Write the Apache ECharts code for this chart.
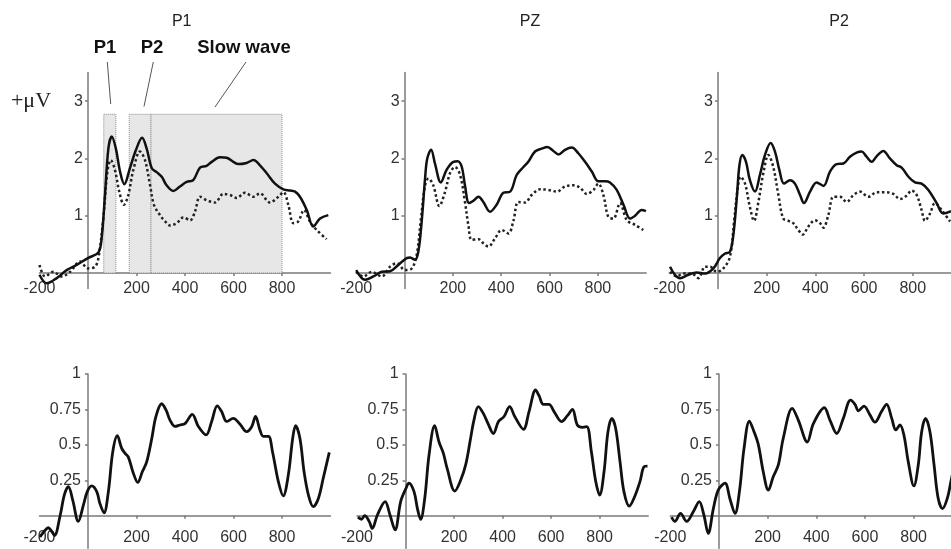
<!DOCTYPE html>
<html>
<head>
<meta charset="utf-8">
<script src="https://cdn.jsdelivr.net/npm/echarts@6/dist/echarts.min.js"></script>
<style>
html,body{margin:0;padding:0;background:#fff;}
#c{width:951px;height:549px;}
</style>
</head>
<body>
<div id="c"></div>
<script>
// ---- tick labels ----
const xLabelVals = [-200, 200, 400, 600, 800];
const xTickVals = [200, 400, 600, 800];
const yTopLabelVals = [1, 2, 3];
const yBotLabelVals = [0.25, 0.5, 0.75, 1];
const panelTitles = ['P1', 'PZ', 'P2'];

// ---- component windows (ms) in panel P1 ----
const compNames = ['P1', 'P2', 'Slow wave'];
const compStart = [65, 170, 260];
const compEnd = [115, 260, 800];
const compTop = 2.77;

// ---- top row: ERP amplitude (µV), solid & dotted conditions ----
const p1SolidT = [-200,-170,-129,-88,-47,0,43,56,70,84,98,115,132,150,173,198,223,242,263,283,304,324,352,379,407,434,462,489,510,544,572,599,620,654,682,709,737,771,806,833,854,874,902,929,957,991];
const p1SolidV = [-0.03,-0.18,-0.09,0.05,0.14,0.26,0.36,0.6,1.36,2.17,2.38,2.17,1.77,1.55,1.83,2.15,2.36,2.17,1.83,1.76,1.68,1.53,1.43,1.51,1.59,1.62,1.84,1.87,1.94,2.02,2.01,1.94,1.90,1.92,1.97,1.88,1.74,1.56,1.46,1.44,1.42,1.33,1.10,0.81,0.95,1.01];
const p1DotT = [-200,-177,-143,-109,-74,-33,0,29,43,63,80,94,111,129,148,166,187,214,235,256,272,297,318,338,366,393,421,441,462,489,524,558,586,613,647,682,709,750,785,806,826,847,867,891,915,943,984];
const p1DotV = [0.14,-0.06,0.02,-0.06,0.02,0.2,0.08,0.11,0.26,0.95,1.77,1.97,1.8,1.42,1.19,1.36,1.80,2.12,1.97,1.53,1.19,1.01,0.90,0.83,0.87,0.97,0.92,1.07,1.33,1.27,1.23,1.38,1.36,1.31,1.40,1.33,1.39,1.23,1.33,1.41,1.19,0.87,0.90,1.10,0.90,0.75,0.59];

const pzSolidT = [-200,-163,-129,-94,-60,-26,9,23,43,57,71,85,94,110,126,150,174,202,220,237,250,267,285,306,326,354,381,409,437,464,492,512,540,568,591,616,637,664,692,719,747,775,802,830,850,878,906,933,954,981,999];
const pzSolidV = [0.05,-0.12,-0.06,0.02,0.03,0.14,0.26,0.27,0.23,0.37,0.90,1.65,2.0,2.15,1.91,1.58,1.80,1.94,1.95,1.85,1.53,1.22,1.26,1.33,1.24,1.07,1.19,1.40,1.42,1.71,1.85,1.94,2.12,2.17,2.20,2.13,2.07,2.15,2.19,2.09,1.94,1.77,1.60,1.60,1.58,1.45,1.19,0.95,1.0,1.10,1.08];
const pzDotT = [-200,-170,-136,-94,-60,-32,2,30,50,68,85,99,119,144,168,188,209,230,250,264,278,306,326,347,374,402,430,451,471,499,526,561,595,630,664,699,726,754,782,802,823,843,864,892,920,954,988];
const pzDotV = [0.02,-0.06,0.02,-0.06,0.11,0.17,0.05,0.08,0.31,0.95,1.53,1.65,1.53,1.17,1.42,1.74,1.85,1.71,1.24,0.84,0.58,0.59,0.52,0.46,0.60,0.75,0.69,0.92,1.24,1.23,1.36,1.46,1.45,1.42,1.51,1.53,1.49,1.38,1.45,1.56,1.36,0.98,0.95,1.22,0.92,0.84,0.75];

const p2SolidT = [-197,-177,-156,-122,-88,-53,-19,8,29,49,63,77,88,100,115,131,152,172,193,216,234,252,271,296,316,337,353,378,405,433,460,487,515,542,569,590,610,631,652,679,706,734,754,782,809,836,864,898,925,957];
const p2SolidV = [0.11,-0.03,-0.09,-0.03,0.01,-0.01,0.08,0.26,0.34,0.37,0.66,1.30,1.88,2.06,1.94,1.62,1.42,1.71,2.06,2.27,2.12,1.80,1.56,1.62,1.56,1.36,1.22,1.42,1.58,1.52,1.77,1.90,1.91,2.03,2.10,2.12,2.03,1.94,2.04,2.13,2.0,1.88,1.84,1.68,1.58,1.56,1.45,1.22,1.04,1.08];
const p2DotT = [-197,-170,-142,-108,-81,-53,-33,-5,22,49,66,81,93,111,129,148,166,186,207,227,248,268,289,309,330,348,371,398,419,433,453,474,501,528,556,583,617,652,686,720,747,775,795,816,836,850,871,891,918,953];
const p2DotV = [0.02,-0.06,-0.01,-0.01,-0.09,0.11,0.11,0.02,0.08,0.28,0.90,1.48,1.68,1.56,1.19,0.91,1.24,1.74,2.06,1.85,1.36,0.95,0.91,0.87,0.75,0.67,0.81,0.92,0.87,0.79,1.01,1.33,1.33,1.24,1.36,1.42,1.33,1.41,1.41,1.38,1.29,1.35,1.44,1.36,1.10,0.91,1.04,1.22,1.10,0.90];

// ---- bottom row: 0..1 measure ----
const b1T = [-198,-180,-164,-150,-138,-115,-97,-81,-63,-40,-19,-3,15,36,49,66,84,102,121,139,153,166,187,205,224,242,263,280,304,322,338,359,379,400,430,455,487,510,533,551,572,599,627,654,675,691,709,723,744,761,785,805,826,844,856,874,891,909,929,950,970,995];
const b1V = [-0.15,-0.11,-0.085,-0.11,-0.14,0.0,0.15,0.205,0.11,-0.04,0.075,0.17,0.21,0.17,0.087,0.02,0.17,0.45,0.565,0.475,0.44,0.415,0.30,0.235,0.31,0.38,0.545,0.70,0.79,0.745,0.675,0.63,0.64,0.65,0.715,0.63,0.57,0.665,0.775,0.735,0.665,0.687,0.645,0.593,0.628,0.70,0.605,0.56,0.56,0.45,0.24,0.14,0.287,0.545,0.635,0.545,0.31,0.146,0.064,0.122,0.264,0.447];
const bzT = [-196,-182,-168,-150,-137,-116,-84,-64,-43,-20,1,14,35,49,62,79,97,120,138,156,172,203,227,248,268,282,300,321,340,362,383,406,429,450,486,509,536,550,568,591,612,643,667,688,708,729,747,766,784,800,818,834,850,866,884,900,922,944,966,983,997];
const bzV = [-0.01,-0.025,0.0,-0.04,-0.09,0.005,0.10,0.005,-0.10,0.10,0.19,0.23,0.17,0.05,-0.026,0.12,0.43,0.635,0.52,0.44,0.33,0.174,0.25,0.36,0.545,0.675,0.77,0.72,0.65,0.58,0.665,0.70,0.77,0.70,0.61,0.735,0.887,0.847,0.786,0.786,0.735,0.664,0.706,0.75,0.64,0.624,0.628,0.45,0.24,0.146,0.31,0.59,0.687,0.616,0.38,0.17,0.068,0.134,0.24,0.346,0.35];
const b2T = [-195,-181,-158,-133,-105,-81,-62,-44,-23,-3,25,45,66,84,103,125,144,162,182,203,223,244,264,301,326,363,388,433,456,484,511,541,559,573,596,621,641,668,689,710,727,744,760,778,801,819,833,849,867,884,901,919,938,953,975];
const b2V = [-0.01,-0.04,0.016,-0.04,0.03,0.10,0.005,-0.125,0.05,0.18,0.23,0.12,0.016,0.17,0.475,0.668,0.593,0.50,0.31,0.18,0.275,0.358,0.545,0.757,0.675,0.52,0.65,0.762,0.675,0.58,0.687,0.816,0.786,0.74,0.774,0.71,0.66,0.735,0.786,0.687,0.605,0.64,0.57,0.38,0.21,0.358,0.593,0.687,0.593,0.358,0.122,0.05,0.12,0.24,0.42];

const zip = (t, v) => t.map((x, i) => [x, v[i]]);

const AX = '#7a7a7a';
const TXT = '#333';
const FONT = 'Liberation Sans, Arial, sans-serif';

const X_MIN = -200, X_MAX = 1000;
const Y_RANGE_TOP = [-0.27, 3.5];
const Y_RANGE_BOT = [-0.23, 1];

const gridsPx = [
  {left: 39.5, top: 72.45, width: 291, height: 216},
  {left: 356.2, top: 72.45, width: 290, height: 216},
  {left: 669.3, top: 72.45, width: 292.2, height: 216},
  {left: 39.5, top: 374, width: 291, height: 174.3},
  {left: 357, top: 374, width: 291.2, height: 174.3},
  {left: 670.3, top: 374, width: 292, height: 174.3}
];

const grid = gridsPx.map(g => Object.assign({containLabel: false, outerBoundsMode: 'none'}, g));

const yRange = i => (i < 3 ? Y_RANGE_TOP : Y_RANGE_BOT);

// axes crossing at (0,0): shift them from the grid edges to the zero positions
const xAxis = gridsPx.map((g, i) => {
  const r = yRange(i);
  const off = -((0 - r[0]) / (r[1] - r[0])) * g.height;
  return {
    type: 'value', gridIndex: i, min: X_MIN, max: X_MAX, position: 'bottom', offset: off,
    axisLine: {show: true, onZero: false, lineStyle: {color: AX, width: 1.5}},
    axisTick: {show: true, length: 3, customValues: xTickVals, lineStyle: {color: AX, width: 1.5}},
    axisLabel: {customValues: xLabelVals, margin: i < 3 ? 8 : 14, fontSize: 16, color: TXT, fontFamily: FONT},
    splitLine: {show: false}
  };
});

const yAxis = gridsPx.map((g, i) => {
  const r = yRange(i);
  const off = -((0 - X_MIN) / (X_MAX - X_MIN)) * g.width;
  return {
    type: 'value', gridIndex: i, min: r[0], max: r[1], position: 'left', offset: off,
    axisLine: {show: true, onZero: false, lineStyle: {color: AX, width: 1.5}},
    axisTick: {show: true, length: 3, customValues: i < 3 ? yTopLabelVals : yBotLabelVals, lineStyle: {color: AX, width: 1.5}},
    axisLabel: {customValues: i < 3 ? yTopLabelVals : yBotLabelVals, margin: i < 3 ? 5 : 7, fontSize: 16, color: TXT, fontFamily: FONT},
    splitLine: {show: false}
  };
});

function solid(i, t, v, w) {
  return {type: 'line', xAxisIndex: i, yAxisIndex: i, data: zip(t, v), smooth: 0.35, symbol: 'none', z: 4,
    lineStyle: {color: '#111', width: w}, silent: true, animation: false};
}
function dotted(i, t, v) {
  return {type: 'line', xAxisIndex: i, yAxisIndex: i, data: zip(t, v), smooth: 0.35, symbol: 'none', z: 3,
    lineStyle: {color: '#222', width: 2.5, type: [2.5, 2.6]}, silent: true, animation: false};
}

const series = [
  {type: 'line', xAxisIndex: 0, yAxisIndex: 0, data: [], z: 1, silent: true, animation: false,
    markArea: {silent: true, animation: false,
      itemStyle: {color: '#e7e7e7', borderColor: '#8c8c8c', borderWidth: 1, borderType: 'dotted'},
      data: compNames.map((n, k) => [{xAxis: compStart[k], yAxis: 0}, {xAxis: compEnd[k], yAxis: compTop}])
    }},
  dotted(0, p1DotT, p1DotV), solid(0, p1SolidT, p1SolidV, 2.5),
  dotted(1, pzDotT, pzDotV), solid(1, pzSolidT, pzSolidV, 2.5),
  dotted(2, p2DotT, p2DotV), solid(2, p2SolidT, p2SolidV, 2.5),
  solid(3, b1T, b1V, 2.8), solid(4, bzT, bzV, 2.8), solid(5, b2T, b2V, 2.8)
];

const titleX = [181.7, 530, 839];
const graphic = [];
panelTitles.forEach((t, i) => {
  graphic.push({type: 'text', x: titleX[i], y: 22, style: {text: t, font: '16px ' + FONT, fill: '#222', align: 'center', verticalAlign: 'middle'}});
});

const labelX = [105, 152, 244];
const leader = [[107.3, 62, 110.7, 104], [153.3, 62, 144, 106.5], [246, 62, 215, 107]];
compNames.forEach((n, k) => {
  graphic.push({type: 'text', x: labelX[k], y: 47.5, style: {text: n, font: 'bold 18.5px ' + FONT, fill: '#111', align: 'center', verticalAlign: 'middle'}});
  graphic.push({type: 'line', shape: {x1: leader[k][0], y1: leader[k][1], x2: leader[k][2], y2: leader[k][3]}, style: {stroke: '#555', lineWidth: 1}});
});
graphic.push({type: 'text', x: 31, y: 101, style: {text: '+μV', font: '22px "Liberation Serif", "Times New Roman", serif', fill: '#222', align: 'center', verticalAlign: 'middle'}});

const chart = echarts.init(document.getElementById('c'), null, {renderer: 'canvas'});
chart.setOption({
  animation: false,
  backgroundColor: '#fff',
  grid, xAxis, yAxis, series, graphic
});
</script>
</body>
</html>
